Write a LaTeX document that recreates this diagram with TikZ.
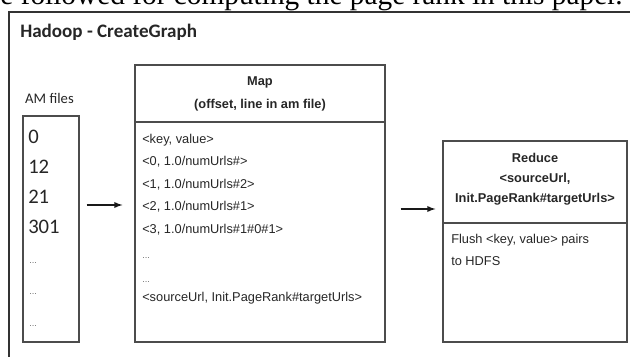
\documentclass[tikz,border=0pt]{standalone}
\usepackage{fontspec}
\setmainfont{Liberation Sans}
\newfontfamily\calib{Carlito}
\newfontfamily\tms{Liberation Serif}
\usetikzlibrary{fit}
\begin{document}
\begin{tikzpicture}[x=.75pt,y=-.75pt,
  box/.style={draw=black!70,line width=.9pt,inner sep=0},
  ln/.style={anchor=west,inner sep=0,font=\fontsize{9.6}{11}\selectfont,text=black!85},
  hd/.style={inner sep=0,font=\bfseries\fontsize{9.6}{11}\selectfont,text=black!85},
  num/.style={anchor=west,inner sep=0,font=\calib\fontsize{15.5}{17}\selectfont,text=black!85},
  dots/.style={anchor=west,inner sep=0,font=\fontsize{7}{8}\selectfont,text=black!55},
  arr/.style={-latex,line width=1.1pt,black!90}]
\useasboundingbox (0,0) rectangle (630,356);
\clip (0,0) rectangle (630,356);
\node[anchor=base east,inner sep=0,font=\tms\fontsize{22}{24}\selectfont] (cap) at (623,5) {e followed for computing the page rank in this paper.};
\draw[line width=1.5pt,black!80] (9,357) -- (9,12) -- (631,12);
\node[anchor=west,inner sep=0,font=\calib\bfseries\fontsize{14.3}{16}\selectfont,text=black!85] (title) at (20,32) {Hadoop - CreateGraph};
% AM files
\node[inner sep=0,font=\calib\fontsize{11}{13}\selectfont,text=black!85] (amlbl) at (49.5,98) {AM files};
\node[box,fit={(23,116) (79,342)}] (am) {};
\foreach \y/\t [count=\i] in {137/0, 167/12, 197/21, 227/301} \node[num] (a\i) at (28,\y) {\t};
\foreach \y [count=\i] in {263,294,326} \node[dots] (ad\i) at (29,\y) {...};
% Map
\node[box,fit={(135,65) (385,342)}] (map) {};
\draw[draw=black!70,line width=.9pt] (map.west |- 0,122) -- (map.east |- 0,122);
\node[hd] (maph1) at (260,82) {Map};
\node[hd] (maph2) at (260,105) {(offset, line in am file)};
\foreach \y/\t [count=\i] in {140/{<key, value>}, 162/{<0, 1.0/numUrls\#>}, 185/{<1, 1.0/numUrls\#2>}, 207/{<2, 1.0/numUrls\#1>}, 230/{<3, 1.0/numUrls\#1\#0\#1>}, 298/{<sourceUrl, Init.PageRank\#targetUrls>}}
  \node[ln] (m\i) at (142,\y) {\t};
\foreach \y [count=\i] in {258,282} \node[dots] (md\i) at (142,\y) {...};
% Reduce
\node[box,fit={(443,141) (627,342)}] (red) {};
\draw[draw=black!70,line width=.9pt] (red.west |- 0,223) -- (red.east |- 0,223);
\node[hd] (redh1) at (535,158) {Reduce};
\node[hd] (redh2) at (535,179) {<sourceUrl,};
\node[hd] (redh3) at (535,199) {Init.PageRank\#targetUrls>};
\node[ln] (r1) at (451,240) {Flush <key, value> pairs};
\node[ln] (r2) at (451,261) {to HDFS};
% arrows
\coordinate (y1) at (0,205);
\coordinate (y2) at (0,209);
\draw[arr,shorten <=7pt*.75,shorten >=12pt*.75] (am.east |- y1) -- (map.west |- y1);
\draw[arr,shorten <=15pt*.75,shorten >=7pt*.75] (map.east |- y2) -- (red.west |- y2);
\end{tikzpicture}
\end{document}
